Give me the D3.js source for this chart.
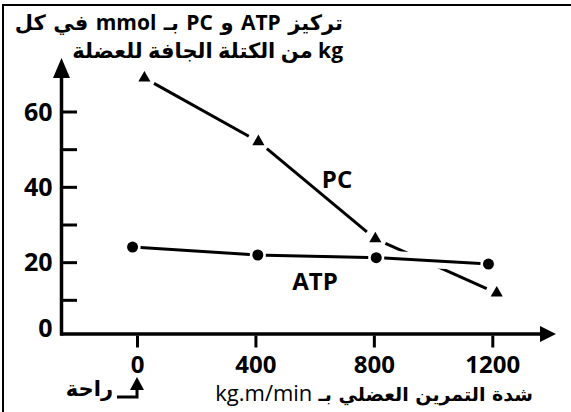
<!DOCTYPE html>
<html>
<head>
<meta charset="utf-8">
<script src="https://cdn.jsdelivr.net/npm/d3@7"></script>
<style>
  body { margin: 0; background: #fff; }
  svg { display: block; }
  text { fill: #000; }
</style>
</head>
<body>
<svg id="chart"></svg>
<script>
// PC and ATP concentration vs exercise intensity
var pcLoad = [25, 410, 805, 1215];
var pcValues = [68.9, 52, 26.2, 11.8];
var atpLoad = [-15, 408, 808, 1187];
var atpValues = [24, 21.9, 21.2, 19.5];

var xTicks = [0, 400, 800, 1200];
var yTickMarks = [10, 20, 30, 40, 50, 60];
var yTickLabels = [0, 20, 40, 60];

var titleLines = ["تركيز ATP و PC بـ mmol في كل", "kg من الكتلة الجافة للعضلة"];
var xLabelAr = "شدة التمرين العضلي بـ";
var xLabelUnit = "kg.m/min";
var restLabel = "راحة";

var width = 571, height = 412;
var axisX = 61.5, axisY = 334;
var latin = "'Open Sans', 'DejaVu Sans', sans-serif";
var arabic = "'DejaVu Sans', sans-serif";

var svg = d3.select("#chart")
  .attr("width", width)
  .attr("height", height);

var x = d3.scaleLinear().domain([0, 1200]).range([137, 492.3]);
var y = d3.scaleLinear().domain([0, 60]).range([337.5, 111.5]);

// frame
svg.append("rect")
  .attr("x", 3).attr("y", 5)
  .attr("width", 600).attr("height", 420)
  .attr("fill", "none")
  .attr("stroke", "#000")
  .attr("stroke-width", 2);

// axes
svg.append("line")
  .attr("x1", axisX).attr("x2", axisX)
  .attr("y1", axisY + 1.5).attr("y2", 72)
  .attr("stroke", "#000").attr("stroke-width", 3.5);
svg.append("path")
  .attr("d", `M${axisX},58 L${axisX + 8.5},78 L${axisX - 8.5},78 Z`)
  .attr("fill", "#000");

svg.append("line")
  .attr("x1", axisX - 1.5).attr("x2", 545)
  .attr("y1", axisY).attr("y2", axisY)
  .attr("stroke", "#000").attr("stroke-width", 3.5);
svg.append("path")
  .attr("d", `M556,${axisY} L540,${axisY - 8} L540,${axisY + 8} Z`)
  .attr("fill", "#000");

// y ticks (to the right of the axis)
svg.append("g")
  .attr("transform", `translate(${axisX + 1.5},0)`)
  .call(d3.axisRight(y).tickValues(yTickMarks).tickSize(14).tickFormat(""))
  .call(g => g.select(".domain").remove())
  .call(g => g.selectAll("line").attr("stroke", "#000").attr("stroke-width", 3));

var yLab = svg.append("g")
  .attr("transform", `translate(${axisX - 9},0)`)
  .call(d3.axisLeft(y).tickValues(yTickLabels).tickSize(0).tickPadding(0))
  .call(g => g.select(".domain").remove());
yLab.selectAll("text")
  .style("font-family", latin)
  .style("font-weight", "bold")
  .style("font-size", "25px")
  .attr("fill", "#000")
  .attr("dy", d => d === 0 ? "-0.05em" : "0.35em");

// x ticks
var xAx = svg.append("g")
  .attr("transform", `translate(0,${axisY + 1.5})`)
  .call(d3.axisBottom(x).tickValues(xTicks).tickSize(12).tickPadding(8).tickFormat(d3.format("d")))
  .call(g => g.select(".domain").remove());
xAx.selectAll("line").attr("stroke", "#000").attr("stroke-width", 3);
xAx.selectAll("text")
  .style("font-family", latin)
  .style("font-weight", "bold")
  .style("font-size", "24px")
  .attr("fill", "#000");

// lines with gaps near the markers
function segments(xs, vs, gap) {
  var pts = xs.map((d, i) => [x(d), y(vs[i])]);
  var out = [];
  for (var i = 0; i < pts.length - 1; i++) {
    var a = pts[i], b = pts[i + 1];
    var dx = b[0] - a[0], dy = b[1] - a[1];
    var len = Math.sqrt(dx * dx + dy * dy);
    var ux = dx / len, uy = dy / len;
    out.push([[a[0] + ux * gap, a[1] + uy * gap], [b[0] - ux * gap, b[1] - uy * gap]]);
  }
  return out;
}

var pcSeg = segments(pcLoad, pcValues, 11);
var atpSeg = segments(atpLoad, atpValues, 8);

svg.append("g").selectAll("line")
  .data(pcSeg).enter().append("line")
  .attr("x1", d => d[0][0]).attr("y1", d => d[0][1])
  .attr("x2", d => d[1][0]).attr("y2", d => d[1][1])
  .attr("stroke", "#000").attr("stroke-width", 3);

// white halo under ATP line breaks the PC line where they cross
svg.append("g").selectAll("line")
  .data(atpSeg).enter().append("line")
  .attr("x1", d => d[0][0]).attr("y1", d => d[0][1])
  .attr("x2", d => d[1][0]).attr("y2", d => d[1][1])
  .attr("stroke", "#fff").attr("stroke-width", 15);

svg.append("g").selectAll("line")
  .data(atpSeg).enter().append("line")
  .attr("x1", d => d[0][0]).attr("y1", d => d[0][1])
  .attr("x2", d => d[1][0]).attr("y2", d => d[1][1])
  .attr("stroke", "#000").attr("stroke-width", 3);

// markers
svg.append("g").selectAll("path")
  .data(pcValues).enter().append("path")
  .attr("d", d3.symbol(d3.symbolTriangle, 64))
  .attr("transform", (d, i) => `translate(${x(pcLoad[i])},${y(d)})`)
  .attr("fill", "#000");

svg.append("g").selectAll("circle")
  .data(atpValues).enter().append("circle")
  .attr("cx", (d, i) => x(atpLoad[i]))
  .attr("cy", d => y(d))
  .attr("r", 5.5)
  .attr("fill", "#000");

// series labels
svg.append("text")
  .attr("x", 337).attr("y", 188)
  .attr("text-anchor", "middle")
  .style("font-family", latin).style("font-weight", "bold").style("font-size", "24px")
  .text("PC");
svg.append("text")
  .attr("x", 315).attr("y", 290)
  .attr("text-anchor", "middle")
  .style("font-family", latin).style("font-weight", "bold").style("font-size", "24px")
  .text("ATP");

// title (right to left)
svg.selectAll(".title")
  .data(titleLines).enter().append("text")
  .attr("class", "title")
  .attr("x", 343)
  .attr("y", (d, i) => 30 + i * 28)
  .attr("direction", "rtl")
  .attr("text-anchor", "start")
  .style("font-family", latin)
  .style("font-weight", "bold")
  .style("font-size", "21px")
  .style("word-spacing", (d, i) => i === 0 ? "2px" : "0px")
  .text(d => d);

// x axis label
var xl = svg.append("text")
  .attr("x", 533).attr("y", 401)
  .attr("direction", "rtl")
  .attr("text-anchor", "start")
  .style("font-family", arabic)
  .style("font-weight", "bold")
  .style("font-size", "19px")
  .text(xLabelAr);
var arW = xl.node().getComputedTextLength();
svg.append("text")
  .attr("x", 533 - arW - 6).attr("y", 401)
  .attr("text-anchor", "end")
  .style("font-family", latin)
  .style("font-size", "22px")
  .text(xLabelUnit);

// rest marker
svg.append("text")
  .attr("x", 113).attr("y", 396)
  .attr("direction", "rtl")
  .attr("text-anchor", "start")
  .style("font-family", arabic)
  .style("font-weight", "bold")
  .style("font-size", "21px")
  .text(restLabel);
svg.append("path")
  .attr("d", `M117,397 L${x(0)},397 L${x(0)},386`)
  .attr("fill", "none")
  .attr("stroke", "#000").attr("stroke-width", 3);
svg.append("path")
  .attr("d", `M${x(0)},377 L${x(0) + 7},390 L${x(0) - 7},390 Z`)
  .attr("fill", "#000");
</script>
</body>
</html>
